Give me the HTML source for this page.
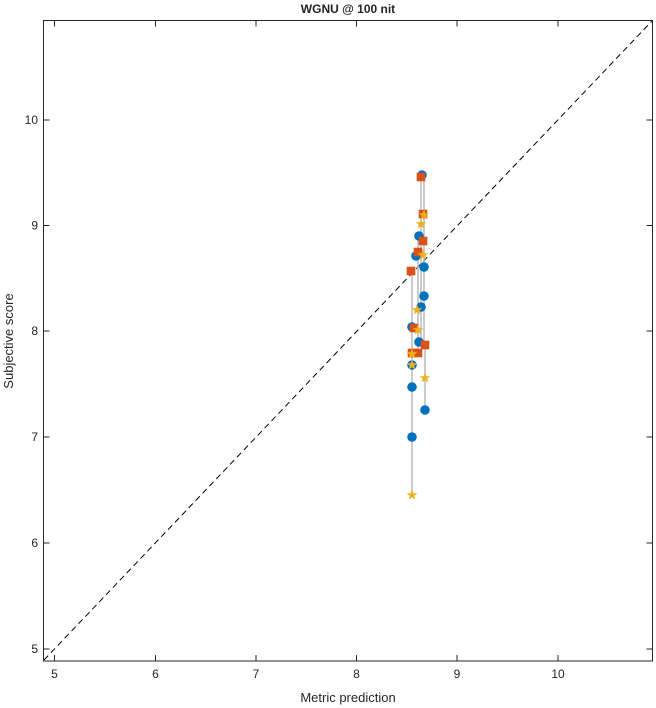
<!DOCTYPE html>
<html><head><style>body{margin:0;background:#fff}svg{display:block}text{font-family:"Liberation Sans",sans-serif;fill:#262626}</style></head>
<body>
<svg width="656" height="708" viewBox="0 0 656 708">
<defs>
<circle id="c" r="4.8" fill="#0072BD"/>
<rect id="s" x="-4.3" y="-4.3" width="8.6" height="8.6" fill="#D95319"/>
<polygon id="t" points="0,-5.5 1.4,-1.8 5.3,-1.7 2.2,0.7 3.3,4.5 0,2.3 -3.3,4.5 -2.2,0.7 -5.3,-1.7 -1.4,-1.8" fill="#EDB120"/>
</defs>
<text x="348" y="13" font-size="12" font-weight="bold" text-anchor="middle">WGNU @ 100 nit</text>
<line x1="44" y1="660" x2="652" y2="21" stroke="#000" stroke-dasharray="6,4" stroke-width="1"/>
<g stroke="#bbb" stroke-width="1.5">
<line x1="412" y1="271" x2="412" y2="495"/>
<line x1="418" y1="236" x2="418" y2="355"/>
<line x1="421" y1="175" x2="421" y2="342"/>
<line x1="424" y1="175" x2="424" y2="345"/>
<line x1="425" y1="345" x2="425" y2="410"/>
</g>
<g>
<use href="#c" x="422" y="175"/><use href="#c" x="419" y="236"/><use href="#c" x="416" y="256"/><use href="#c" x="424" y="267"/><use href="#c" x="424" y="296"/><use href="#c" x="421" y="307"/><use href="#c" x="412" y="327"/><use href="#c" x="419" y="342"/><use href="#c" x="412" y="365"/><use href="#c" x="412" y="387"/><use href="#c" x="425" y="410"/><use href="#c" x="412" y="437"/>
<use href="#s" x="421" y="177"/><use href="#s" x="423" y="214"/><use href="#s" x="423" y="241"/><use href="#s" x="418" y="252"/><use href="#s" x="411" y="271"/><use href="#s" x="414" y="328"/><use href="#s" x="418" y="353"/><use href="#s" x="425" y="345"/><use href="#s" x="412" y="353"/>
<use href="#t" x="424" y="215"/><use href="#t" x="421" y="224"/><use href="#t" x="423" y="255"/><use href="#t" x="417" y="310"/><use href="#t" x="418" y="330"/><use href="#t" x="412" y="354"/><use href="#t" x="412" y="365"/><use href="#t" x="425" y="378"/><use href="#t" x="412" y="495"/>
</g>
<rect x="43.5" y="20.5" width="609" height="640.5" fill="none" stroke="#262626" stroke-width="1"/>
<g stroke="#262626" stroke-width="1">
<path d="M54.5 661v-6M155.5 661v-6M256 661v-6M356.5 661v-6M457 661v-6M558 661v-6M54.5 20.5v6M155.5 20.5v6M256 20.5v6M356.5 20.5v6M457 20.5v6M558 20.5v6"/>
<path d="M43.5 120h6M43.5 225.5h6M43.5 331h6M43.5 437h6M43.5 543h6M43.5 649h6M652.5 120h-6M652.5 225.5h-6M652.5 331h-6M652.5 437h-6M652.5 543h-6M652.5 649h-6"/>
</g>
<g font-size="12" text-anchor="middle">
<text x="54.5" y="678">5</text><text x="155.5" y="678">6</text><text x="256" y="678">7</text><text x="356.5" y="678">8</text><text x="457" y="678">9</text><text x="558" y="678">10</text>
</g>
<g font-size="12" text-anchor="end">
<text x="38" y="124">10</text><text x="38" y="229.5">9</text><text x="38" y="335">8</text><text x="38" y="441">7</text><text x="38" y="547">6</text><text x="38" y="653">5</text>
</g>
<text x="348" y="702" font-size="13" text-anchor="middle">Metric prediction</text>
<text transform="translate(13,341) rotate(-90)" font-size="13" text-anchor="middle">Subjective score</text>
</svg>
</body></html>
